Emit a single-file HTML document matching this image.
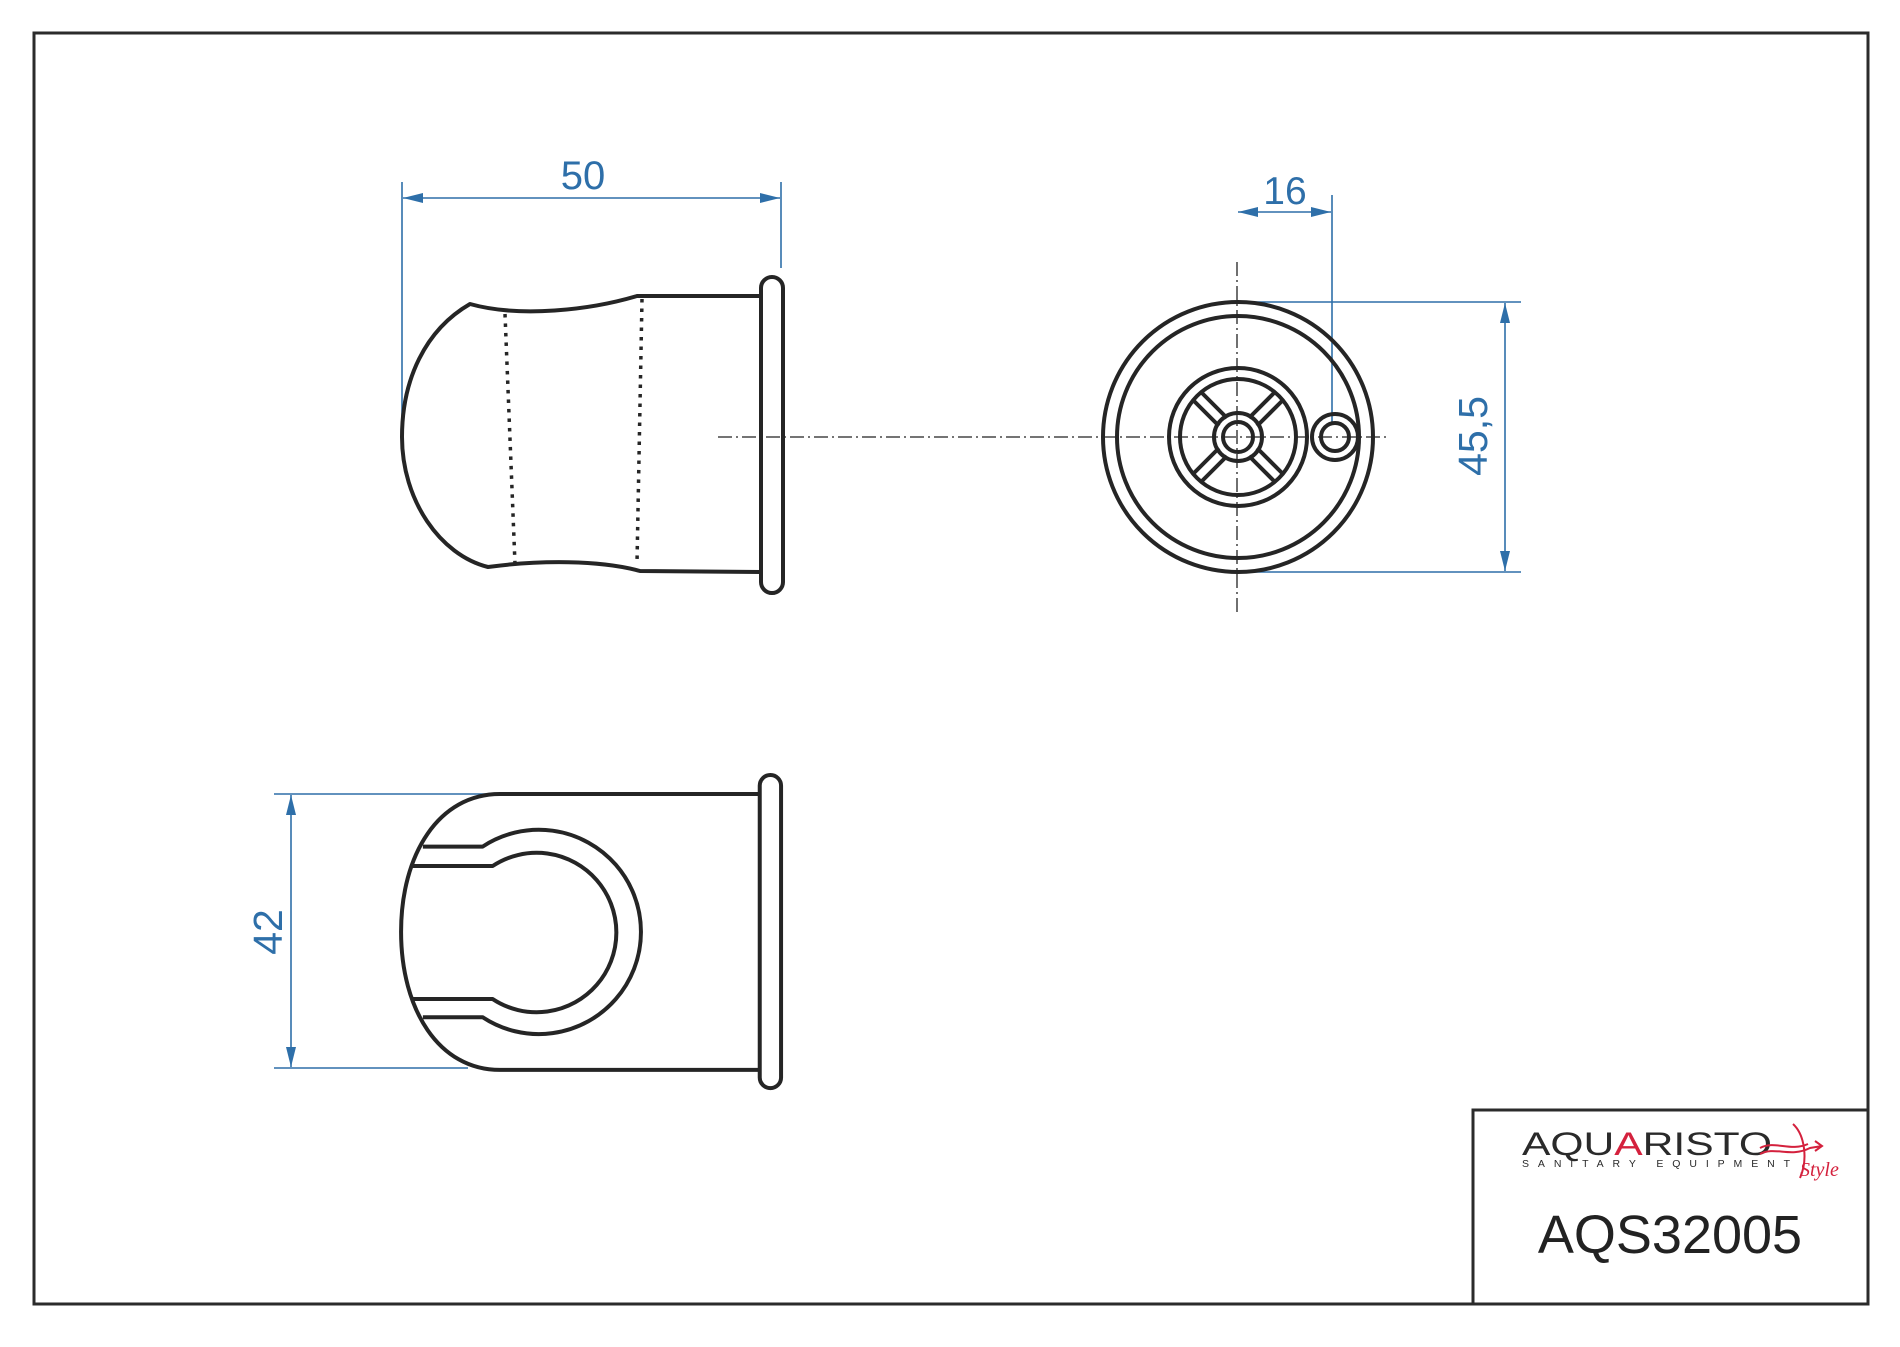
<!DOCTYPE html>
<html><head><meta charset="utf-8"><style>html,body{margin:0;padding:0;background:#fff}svg{display:block}</style></head>
<body>
<svg width="1900" height="1347" viewBox="0 0 1900 1347" xmlns="http://www.w3.org/2000/svg">
<defs>
<marker id="ar" viewBox="0 0 20 10" refX="20" refY="5" markerWidth="20" markerHeight="10" markerUnits="userSpaceOnUse" orient="auto-start-reverse"><path d="M0,0 L20,5 L0,10 Z" fill="#2e6fa9"/></marker>
</defs>
<rect width="1900" height="1347" fill="#fff"/>
<rect x="34" y="33" width="1834" height="1271" fill="none" stroke="#2b2b2b" stroke-width="3"/>
<rect x="1473" y="1110" width="395" height="194" fill="none" stroke="#2b2b2b" stroke-width="3"/>

<g fill="none" stroke="#2e6fa9" stroke-width="1.6">
<line x1="402" y1="182" x2="402" y2="420"/>
<line x1="781" y1="182" x2="781" y2="268"/>
<line x1="403" y1="198" x2="780" y2="198" marker-start="url(#ar)" marker-end="url(#ar)"/>
<line x1="1332" y1="195" x2="1332" y2="422"/>
<line x1="1238" y1="212" x2="1331" y2="212" marker-start="url(#ar)" marker-end="url(#ar)"/>
<line x1="1250" y1="302" x2="1521" y2="302"/>
<line x1="1250" y1="572" x2="1521" y2="572"/>
<line x1="1505" y1="303" x2="1505" y2="571" marker-start="url(#ar)" marker-end="url(#ar)"/>
<line x1="274" y1="794" x2="490" y2="794"/>
<line x1="274" y1="1068" x2="468" y2="1068"/>
<line x1="291" y1="795" x2="291" y2="1067" marker-start="url(#ar)" marker-end="url(#ar)"/>
</g>
<g fill="#2e6fa9" font-family="Liberation Sans, sans-serif" font-size="40" text-anchor="middle">
<text x="583" y="189">50</text>
<text x="1285" y="204" font-size="39">16</text>
<text transform="translate(1487,436) rotate(-90)" font-size="41">45,5</text>
<text transform="translate(282,932) rotate(-90)" font-size="41">42</text>
</g>

<g stroke="#222" stroke-width="1.3" stroke-dasharray="14,4,2,4" fill="none">
<line x1="718" y1="437" x2="1390" y2="437"/>
<line x1="1237" y1="262" x2="1237" y2="612"/>
</g>

<g fill="none" stroke="#252525" stroke-width="4" stroke-linejoin="round">
<path d="M761,296 L637,296 C590,310 520,318 470,304 C425,330 402,380 402,437 C402,500 440,555 488,567 C540,560 600,560 640,571 L761,572"/>
<rect x="761" y="277" width="22" height="316" rx="11"/>
<path d="M505,314 L515,564" stroke-dasharray="3.5,6" stroke-width="3.5"/>
<path d="M642,299 L637,563" stroke-dasharray="3.5,6" stroke-width="3.5"/>
</g>

<g fill="none" stroke="#252525" stroke-width="4">
<circle cx="1238" cy="437" r="135"/>
<circle cx="1238" cy="437" r="121"/>
<circle cx="1238" cy="437" r="69"/>
<circle cx="1238" cy="437" r="58"/>
<circle cx="1238" cy="437" r="24"/>
<circle cx="1238" cy="437" r="15"/>
<circle cx="1335" cy="437" r="23"/>
<circle cx="1335" cy="437" r="14"/>
<g transform="translate(1238,437)">
<g id="sp"><line x1="19" y1="-11" x2="45" y2="-37"/><line x1="11" y1="-19" x2="37" y2="-45"/></g>
<use href="#sp" transform="rotate(90)"/><use href="#sp" transform="rotate(180)"/><use href="#sp" transform="rotate(270)"/>
</g>
</g>

<g transform="scale(1.2117)" fill="none" stroke="#252525" stroke-width="3.3" stroke-linejoin="round">
<path d="M627,655.3 L412.6,655.3 C362,655.3 331,705 331,769 C331,833 362,883 412.6,883 L627,883"/>
<rect x="627" y="639.6" width="17.6" height="258.4" rx="8.8"/>
<path d="M349,698.7 L398.3,698.7 A84.3,84.3 0 1 1 398.3,839.5 L349,839.5"/>
<path d="M338.4,714.7 L406.6,714.7 A65.8,65.8 0 1 1 406.6,824.5 L340,824.5"/>
</g>

<g font-family="Liberation Sans, sans-serif">
<text x="1522" y="1155" font-size="32" fill="#2a2a2a" textLength="250" lengthAdjust="spacingAndGlyphs">AQU<tspan fill="#d4213d">A</tspan>RISTO</text>
<text x="1522" y="1167" font-size="10.5" fill="#2a2a2a" textLength="268" lengthAdjust="spacing">SANITARY EQUIPMENT</text>
<path d="M1760,1148 C1775,1140 1790,1152 1808,1144 M1760,1154 C1775,1146 1790,1158 1810,1148 L1822,1146 M1815,1141 L1822,1146 L1815,1151 M1793,1124 C1805,1135 1808,1160 1800,1178" fill="none" stroke="#d4213d" stroke-width="2"/>
<text x="1800" y="1176" font-size="20" font-style="italic" fill="#d4213d" font-family="Liberation Serif, serif">Style</text>
<text x="1670" y="1253" font-size="54" fill="#222" text-anchor="middle">AQS32005</text>
</g>
</svg>
</body></html>
